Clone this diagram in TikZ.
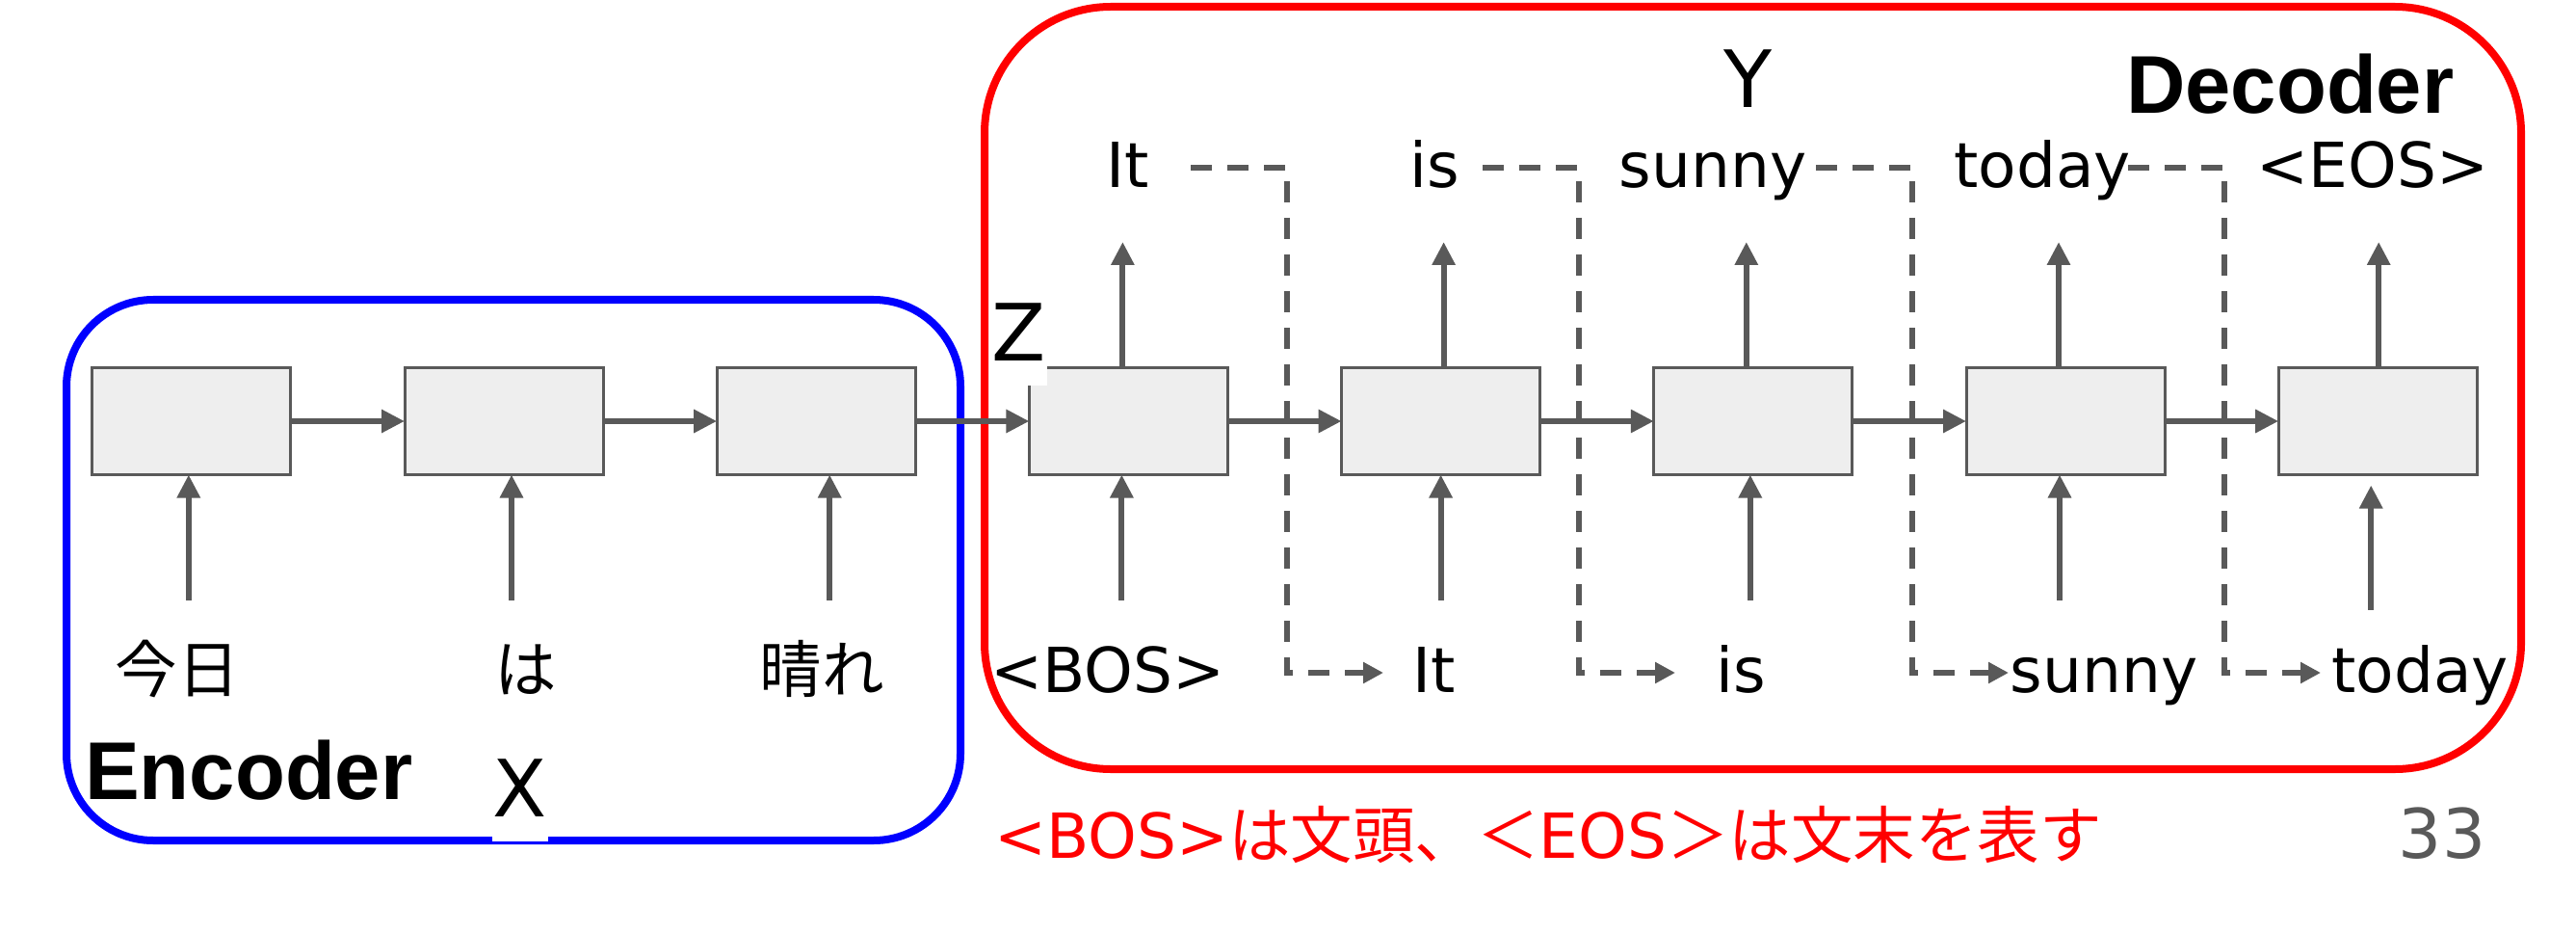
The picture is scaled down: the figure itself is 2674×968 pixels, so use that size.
\documentclass[tikz,border=0pt]{standalone}
\usepackage{fontspec}
\setmainfont{DejaVu Sans}
\newfontfamily\jp{Noto Sans CJK JP}
\newfontfamily\lsb{Liberation Sans}
\usetikzlibrary{arrows.meta}
\definecolor{dg}{HTML}{595959}
\definecolor{boxfill}{HTML}{EEEEEE}
\begin{document}
\begin{tikzpicture}[x=1pt,y=-1pt,
  cell/.style={draw=dg,fill=boxfill,line width=3pt,minimum width=206pt,minimum height=111pt,inner sep=0pt,outer sep=0pt},
  arr/.style={draw=dg,line width=6pt,-{Triangle[length=24pt,width=23pt]}},
  darr/.style={draw=dg,line width=5.5pt,dash pattern=on 22pt off 16pt,-{Triangle[length=21pt,width=21pt]}},
  word/.style={font=\fontsize{64.5pt}{70pt}\selectfont,inner sep=0pt,anchor=base},
  jword/.style={font=\fontsize{64.5pt}{70pt}\selectfont\jp,inner sep=0pt,anchor=base},
  var/.style={font=\fontsize{82pt}{90pt}\selectfont,fill=white,inner sep=1pt,text depth=25pt,anchor=base},
  title/.style={font=\fontsize{85pt}{90pt}\selectfont\lsb\bfseries,inner sep=0pt,anchor=base west},
  container/.style={line width=8pt}]
\useasboundingbox (0,0) rectangle (2674,968);

% containers
\draw[blue,container,rounded corners=90pt] (69,311) rectangle (997,872);
\draw[red,container,rounded corners=131pt] (1022,7) rectangle (2617,798);

% cells
\foreach \i/\x in {1/198.8,2/523,3/847.2,4/1171.4,5/1495.6,6/1819.8,7/2144,8/2468.2}
  \node[cell] (b\i) at (\x,437) {};

% recurrent arrows
\foreach \i/\j in {1/2,2/3,3/4,4/5,5/6,6/7,7/8}
  \draw[arr] (b\i) -- (b\j);

% input arrows
\foreach \i/\dx in {1/-3,2/8,3/14,4/-7,5/0,6/-3,7/-6}
  \draw[arr] ([xshift=\dx pt]b\i.south) ++(0,130) -- ([xshift=\dx pt]b\i.south);
\draw[arr] ([xshift=-7pt]b8.south) ++(0,140) -- ++(0,-129);

% output arrows
\foreach \i/\dx in {4/-6,5/3,6/-7,7/-7,8/1}
  \draw[arr] ([xshift=\dx pt]b\i.north) -- ++(0,-130.5);

% bottom inputs
\node[jword] (x1) at (184,718) {今日};
\node[jword] (x2) at (546,718) {は};
\node[jword] (x3) at (853,718) {晴れ};
\node[word] (d4) at (1150,718) {<BOS>};
\node[word] (d5) at (1489,718) {It};
\node[word] (d6) at (1807,718) {is};
\node[word] (d7) at (2184,718) {sunny};
\node[word] (d8) at (2512,718) {today};

% top outputs
\node[word] (y4) at (1171,195) {It};
\node[word] (y5) at (1489,195) {is};
\node[word] (y6) at (1778,195) {sunny};
\node[word] (y7) at (2120,195) {today};
\node[word] (y8) at (2463,195) {<EOS>};

% feedback dashed connectors
\foreach \i/\vx in {4/1336,5/1639,6/1985,7/2309} {
  \coordinate (s\i) at (\vx-100,174);
  \coordinate (e\i) at (\vx+100,698);
  \draw[darr] (s\i) -- ++(100,0) |- (e\i);
}

% variable labels
\node[var] (X) at (540,847) {X};
\node[var] (Y) at (1815,112) {Y};
\node[var] (Z) at (1058,374) {Z};

% titles
\node[title] (enc) at (88,829) {Encoder};
\node[title] (dec) at (2207,118) {Decoder};

% caption and page number
\node[word,anchor=base west,text=red] (cap) at (1032,890) {<BOS>{\jp は文頭、＜}EOS{\jp ＞は文末を表す}};
\node[font=\fontsize{71pt}{75pt}\selectfont,text=dg,anchor=base,inner sep=0pt] (pg) at (2535,890) {33};
\end{tikzpicture}
\end{document}
